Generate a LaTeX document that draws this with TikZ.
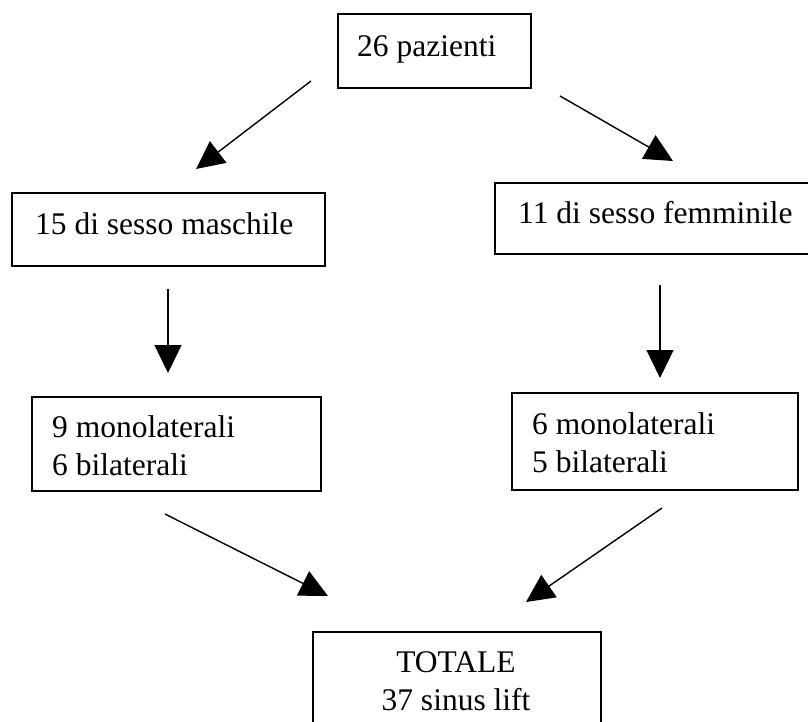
\documentclass[tikz,border=0pt]{standalone}
\usepackage{fontspec}
\setmainfont{Liberation Serif}
\usetikzlibrary{arrows.meta}
\begin{document}
\begin{tikzpicture}[x=1pt,y=-1pt,
  box/.style={draw, line width=2pt, inner sep=0pt, rectangle},
  lbl/.style={font=\fontsize{31.5}{37}\selectfont, inner sep=0pt, anchor=base west},
  clbl/.style={font=\fontsize{31.5}{37}\selectfont, inner sep=0pt, anchor=base},
  arr/.style={line width=1.4pt, -{Triangle[length=28pt,width=27pt]}}]
\useasboundingbox (0,0) rectangle (808,722);
\clip (0,0) rectangle (808,722);
% boxes
\node[box, minimum width=193pt, minimum height=74pt] (top) at (434,51) {};
\node[box, minimum width=313pt, minimum height=73pt] (male) at (168.5,229.5) {};
\node[box, minimum width=335pt, minimum height=71pt] (female) at (662.5,218.5) {};
\node[box, minimum width=289pt, minimum height=94pt] (mleft) at (176.5,444) {};
\node[box, minimum width=286pt, minimum height=97pt] (mright) at (655,441.5) {};
\node[box, minimum width=288pt, minimum height=129pt] (tot) at (457,696.5) {};
% texts
\node[lbl] (ttop) at (357,57) {26 pazienti};
\node[lbl] (tmale) at (35,234) {15 di sesso maschile};
\node[lbl] (tfemale) at (518,223) {11 di sesso femminile};
\node[lbl] (tml1) at (52,437) {9 monolaterali};
\node[lbl] (tml2) at (52,475) {6 bilaterali};
\node[lbl] (tmr1) at (532,434) {6 monolaterali};
\node[lbl] (tmr2) at (532,472) {5 bilaterali};
\node[clbl] (tt1) at (456,672) {TOTALE};
\node[clbl] (tt2) at (456,710) {37 sinus lift};
% arrow end points
\coordinate (a1s) at (311,81);  \coordinate (a1e) at (196,169);
\coordinate (a2s) at (560,96);  \coordinate (a2e) at (673,161);
\coordinate (a3s) at (168,289); \coordinate (a3e) at (168,373);
\coordinate (a4s) at (660,285); \coordinate (a4e) at (660,378);
\coordinate (a5s) at (165,514); \coordinate (a5e) at (328,596);
\coordinate (a6s) at (662,508); \coordinate (a6e) at (526,602);
\draw[arr] (a1s) -- (a1e);
\draw[arr] (a2s) -- (a2e);
\draw[arr] (a3s) -- (a3e);
\draw[arr] (a4s) -- (a4e);
\draw[arr] (a5s) -- (a5e);
\draw[arr] (a6s) -- (a6e);
\end{tikzpicture}
\end{document}
